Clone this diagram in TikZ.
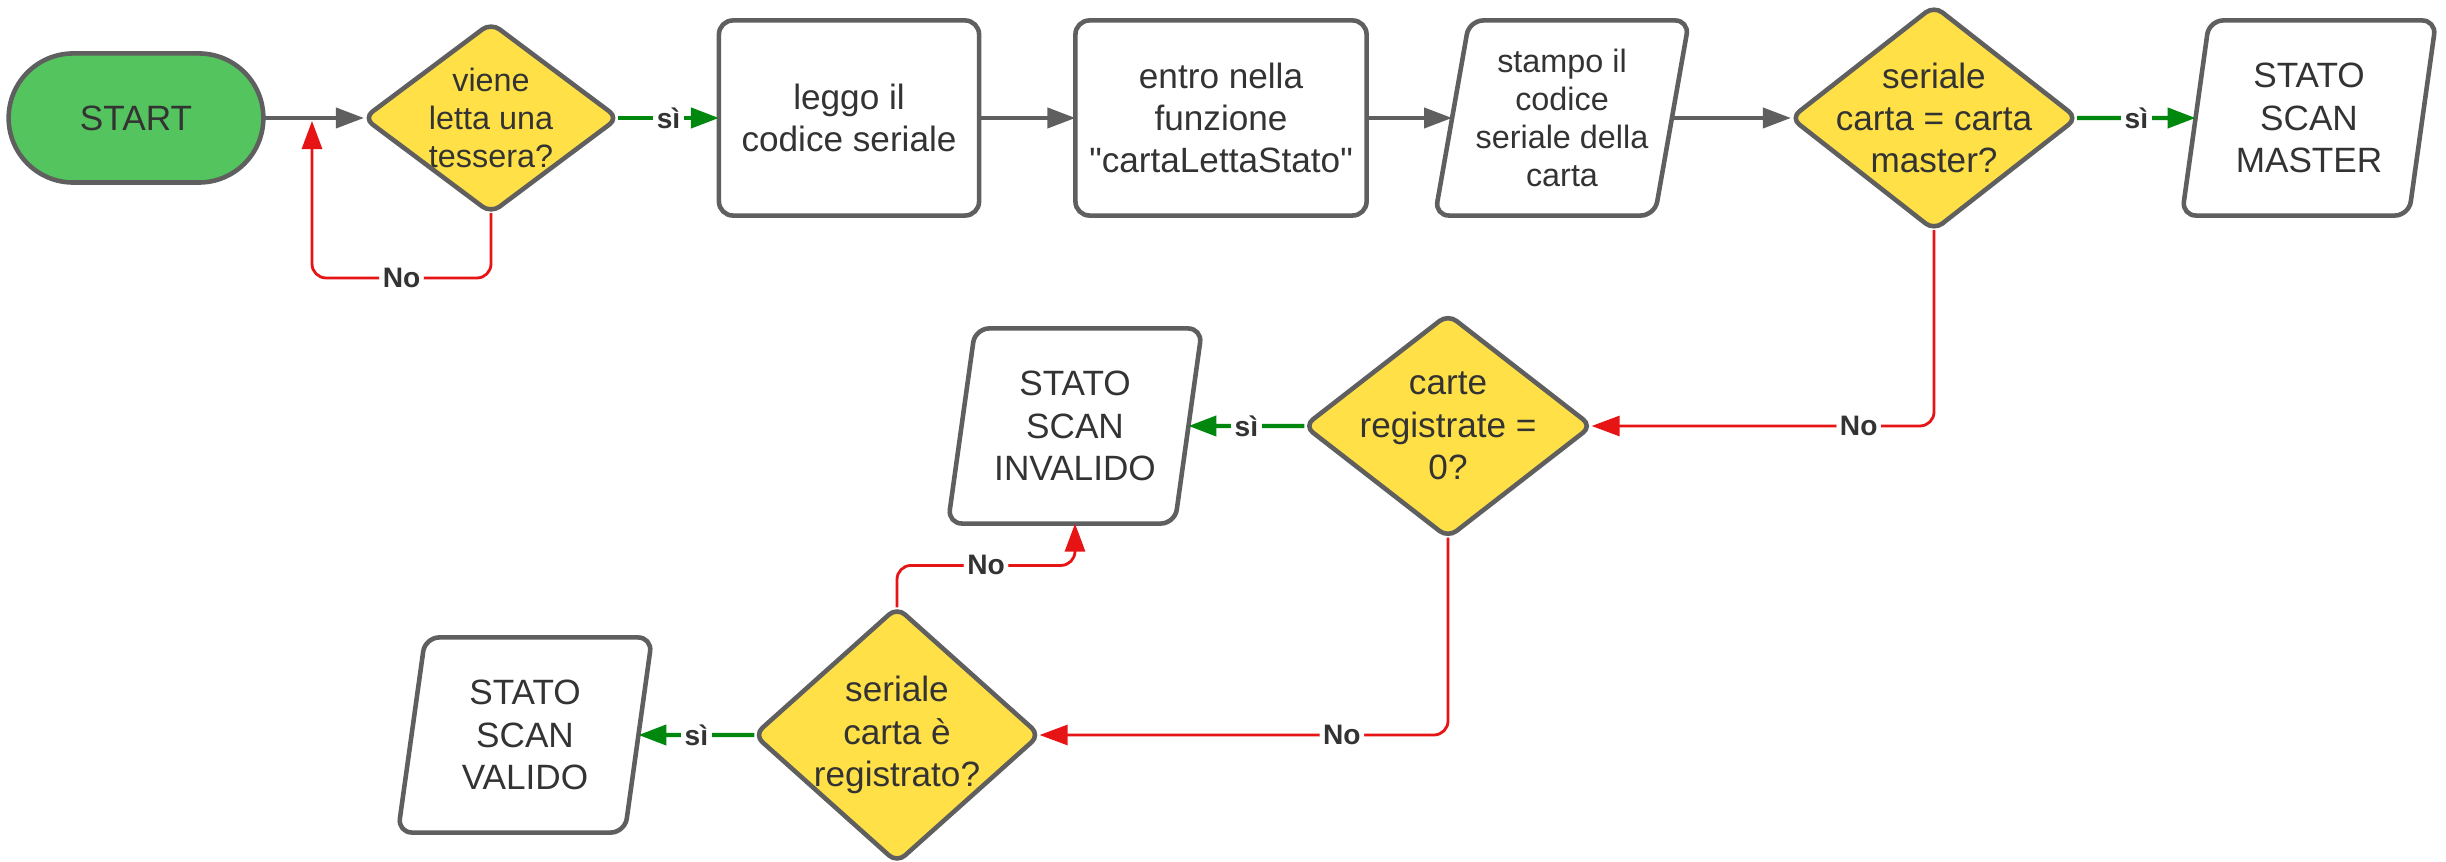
\documentclass[tikz,border=0pt]{standalone}
\usepackage{fontspec}
\setmainfont{Liberation Sans}
\usepackage{tikz}
\usetikzlibrary{arrows.meta, positioning, shapes.geometric, shapes.misc, calc}
\definecolor{linegray}{RGB}{95,95,95}
\definecolor{textgray}{RGB}{51,51,51}
\definecolor{startgreen}{RGB}{84,196,94}
\definecolor{decyellow}{RGB}{255,224,71}
\definecolor{myred}{RGB}{230,20,20}
\definecolor{mygreen}{RGB}{0,136,14}

\begin{document}
\begin{tikzpicture}[x=0.01cm,y=-0.01cm,
    every node/.style={text=textgray,font=\fontsize{10}{12}\selectfont,align=center,outer sep=0pt},
    term/.style={rounded rectangle,draw=linegray,line width=1.3pt,fill=startgreen,minimum width=2.78cm,minimum height=1.29cm},
    proc/.style={rectangle,rounded corners=4pt,draw=linegray,line width=1.3pt,fill=white,minimum height=1.95cm},
    io/.style={trapezium,trapezium left angle=76,trapezium right angle=104,trapezium stretches body,rounded corners=4pt,draw=linegray,line width=1.3pt,fill=white,minimum width=2.54cm,minimum height=1.95cm,inner sep=0pt},
    dec/.style={diamond,aspect=1.3,rounded corners=3pt,draw=linegray,line width=1.3pt,fill=decyellow,inner sep=-6pt},
    flow/.style={draw=linegray,line width=1.1pt,-{Triangle[length=0.28cm,width=0.2cm]}},
    yes/.style={draw=mygreen,line width=1.2pt,-{Triangle[length=0.28cm,width=0.2cm]}},
    no/.style={draw=myred,line width=0.8pt,rounded corners=4pt,-{Triangle[length=0.28cm,width=0.2cm]}},
    lbl/.style={fill=white,inner sep=1pt,font=\bfseries\fontsize{8}{9}\selectfont}]
    \useasboundingbox (0,0) rectangle (2446,862);
    % Top row
    \node[term] (start) at (136,118) {START};
    \node[dec,minimum width=2.54cm,minimum height=1.9cm,font=\fontsize{9.2}{10.8}\selectfont] (tessera) at (491,118) {viene\\letta una\\tessera?};
    \node[proc,minimum width=2.6cm] (leggo) at (849,118) {leggo il\\codice seriale};
    \node[proc,minimum width=2.91cm] (funzione) at (1221,118) {entro nella\\funzione\\\textquotedbl cartaLettaStato\textquotedbl};
    \node[io,font=\fontsize{9.2}{10.8}\selectfont] (stampa) at (1562,118) {stampo il\\codice\\seriale della\\carta};
    \node[dec,minimum width=2.86cm,minimum height=2.24cm] (master) at (1934,118) {seriale\\carta = carta\\master?};
    \node[io] (scanmaster) at (2309,118) {STATO\\SCAN\\MASTER};
    % Lower branches
    \node[dec,minimum width=2.87cm,minimum height=2.23cm] (zero) at (1448,426) {carte\\registrate =\\0?};
    \node[io] (invalido) at (1075,426) {STATO\\SCAN\\INVALIDO};
    \node[dec,minimum width=2.85cm,minimum height=2.55cm] (registrato) at (897,735) {seriale\\carta è\\registrato?};
    \node[io] (valido) at (525,735) {STATO\\SCAN\\VALIDO};
    % Main flow
    \draw[flow] (start) -- (tessera);
    \draw[yes] (tessera) -- node[lbl]{sì} (leggo);
    \draw[flow] (leggo) -- (funzione);
    \draw[flow] (funzione) -- (stampa);
    \draw[flow] (stampa) -- (master);
    \draw[yes] (master) -- node[lbl]{sì} (scanmaster);
    % Loop back when no card
    \coordinate (ritornob) at (312,278);
    \coordinate (ritorno) at (312,121);
    \draw[no] (tessera.south) |- node[lbl,pos=0.75]{No} (ritornob) -- (ritorno);
    % Branches
    \draw[no] (master.south) |- node[lbl,pos=0.61]{No} (zero.east);
    \draw[yes] (zero.west) -- node[lbl]{sì} (invalido);
    \draw[no] (zero.south) |- node[lbl,pos=0.63]{No} (registrato.east);
    \draw[no] (registrato.north) -- ++(0,-42) -| node[lbl,pos=0.25]{No} (invalido.center |- invalido.south);
    \draw[yes] (registrato.west) -- node[lbl]{sì} (valido);
\end{tikzpicture}
\end{document}
